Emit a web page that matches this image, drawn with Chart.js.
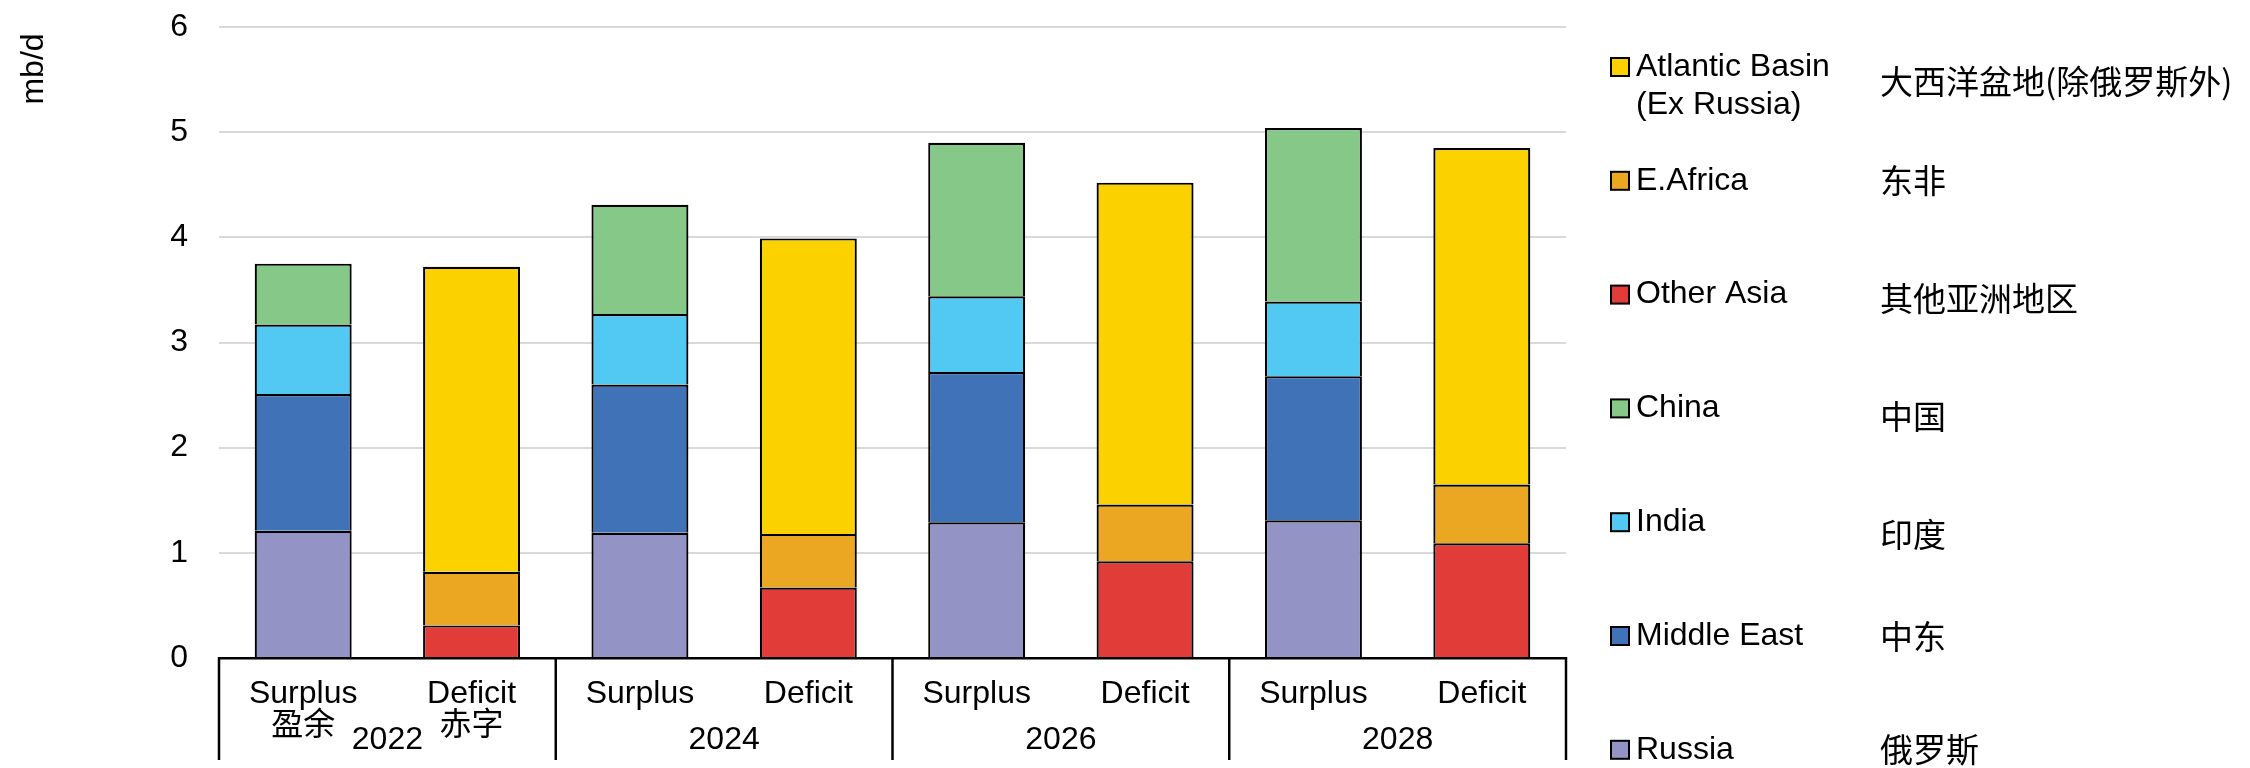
<!DOCTYPE html>
<html>
<head>
<meta charset="utf-8">
<script src="https://cdn.jsdelivr.net/npm/chart.js@4.4.1/dist/chart.umd.min.js"></script>
<style>
  html, body { margin: 0; padding: 0; background: #ffffff; }
  #wrap { width: 2250px; height: 768px; position: relative; }
</style>
</head>
<body>
<div id="wrap"><canvas id="chart" width="2250" height="768"></canvas></div>
<script>
// Category labels (first group carries the Chinese sub-labels)
const categories = [['Surplus', '盈余'], ['Deficit', '赤字'], 'Surplus', 'Deficit', 'Surplus', 'Deficit', 'Surplus', 'Deficit'];
const years = ['2022', '2024', '2026', '2028'];

// Surplus regions (mb/d)
const russia     = [1.21, null, 1.19, null, 1.29, null, 1.31, null];
const middleEast = [1.30, null, 1.41, null, 1.43, null, 1.37, null];
const india      = [0.66, null, 0.67, null, 0.72, null, 0.71, null];
const china      = [0.58, null, 1.04, null, 1.46, null, 1.65, null];
// Deficit regions (mb/d)
const otherAsia  = [null, 0.31, null, 0.67, null, 0.92, null, 1.09];
const eAfrica    = [null, 0.51, null, 0.51, null, 0.54, null, 0.56];
const atlantic   = [null, 2.90, null, 2.81, null, 3.06, null, 3.20];

const yTicks = [0, 1, 2, 3, 4, 5, 6];
const unitLabel = 'mb/d';

const FONT = "'Liberation Sans', Arial, 'Noto Sans CJK SC', sans-serif";
const CJK = "'Noto Sans CJK SC', 'Liberation Sans', sans-serif";

const series = [
  { label: 'Russia',                     zh: '俄罗斯',                data: russia,     color: '#9393C5' },
  { label: 'Middle East',                zh: '中东',                  data: middleEast, color: '#4072B7' },
  { label: 'India',                      zh: '印度',                  data: india,      color: '#51C9F3' },
  { label: 'China',                      zh: '中国',                  data: china,      color: '#86C887' },
  { label: 'Other Asia',                 zh: '其他亚洲地区',          data: otherAsia,  color: '#E23C39' },
  { label: 'E.Africa',                   zh: '东非',                  data: eAfrica,    color: '#EBA622' },
  { label: 'Atlantic Basin\n(Ex Russia)', zh: '大西洋盆地(除俄罗斯外)', data: atlantic,   color: '#FCD100' }
];

// Year row, group dividers under the axis, unit label and the two-column legend
const decorations = {
  id: 'decorations',
  afterDraw(chart) {
    const ctx = chart.ctx;
    const xs = chart.scales.x;
    const area = chart.chartArea;
    const half = (xs.getPixelForValue(1) - xs.getPixelForValue(0)) / 2;
    ctx.save();

    // group dividers
    ctx.strokeStyle = '#000';
    ctx.lineWidth = 2.5;
    for (let g = 0; g <= years.length; g++) {
      const px = g < years.length ? xs.getPixelForValue(g * 2) - half : xs.getPixelForValue(g * 2 - 1) + half;
      ctx.beginPath();
      ctx.moveTo(px, area.bottom - 1);
      ctx.lineTo(px, 760);
      ctx.stroke();
    }

    // year labels
    ctx.fillStyle = '#000';
    ctx.font = '32px ' + FONT;
    ctx.textAlign = 'center';
    ctx.textBaseline = 'alphabetic';
    years.forEach((y, g) => {
      const cx = (xs.getPixelForValue(g * 2) + xs.getPixelForValue(g * 2 + 1)) / 2;
      ctx.fillText(y, cx, 749);
    });

    // unit label
    ctx.save();
    ctx.translate(43, 69);
    ctx.rotate(-Math.PI / 2);
    ctx.textAlign = 'center';
    ctx.textBaseline = 'alphabetic';
    ctx.font = '32px ' + FONT;
    ctx.fillText(unitLabel, 0, 0);
    ctx.restore();

    // legend
    const items = chart.data.datasets.slice().reverse();
    const zhOffsets = [14, 0, 4, 8, 12, 0, 0];
    items.forEach((ds, i) => {
      const cy = 67 + i * 113.8;
      ctx.fillStyle = ds.backgroundColor;
      ctx.fillRect(1611, cy - 9, 18, 18);
      ctx.strokeStyle = '#000';
      ctx.lineWidth = 2;
      ctx.strokeRect(1611, cy - 9, 18, 18);
      ctx.fillStyle = '#000';
      ctx.font = '32px ' + FONT;
      ctx.textAlign = 'left';
      ctx.textBaseline = 'middle';
      ds.label.split('\n').forEach((line, k) => ctx.fillText(line, 1636, cy + k * 38));
      ctx.font = '33px ' + CJK;
      ctx.fillText(ds.zh, 1880, cy + zhOffsets[i]);
    });

    ctx.restore();
  }
};

new Chart(document.getElementById('chart'), {
  type: 'bar',
  data: {
    labels: categories,
    datasets: series.map(s => ({
      label: s.label,
      zh: s.zh,
      data: s.data,
      backgroundColor: s.color,
      borderColor: '#000',
      borderWidth: 2.2,
      borderSkipped: 'start',
      categoryPercentage: 1,
      barPercentage: 0.576
    }))
  },
  options: {
    responsive: false,
    animation: false,
    layout: { padding: { left: 0, right: 684, top: 27, bottom: 0 } },
    plugins: { legend: { display: false }, tooltip: { enabled: false } },
    scales: {
      x: {
        stacked: true,
        grid: { display: false },
        border: { display: true, color: '#000', width: 2.5 },
        ticks: {
          color: '#000',
          font: { size: 32, family: FONT, lineHeight: 1.0 },
          padding: 12,
          maxRotation: 0,
          autoSkip: false
        },
        afterFit(scale) { scale.height = 110; }
      },
      y: {
        stacked: true,
        min: yTicks[0],
        max: yTicks[yTicks.length - 1],
        afterBuildTicks(scale) { scale.ticks = yTicks.map(v => ({ value: v })); },
        grid: {
          color: c => (c.tick && c.tick.value === 0) ? 'rgba(0,0,0,0)' : '#D9D9D9',
          lineWidth: 2,
          drawTicks: false
        },
        border: { display: false },
        ticks: {
          color: '#000',
          font: { size: 32, family: FONT },
          padding: 31
        },
        afterFit(scale) {
          scale.width = 219;
          scale.paddingTop = 0;
          scale.paddingBottom = 0;
        }
      }
    }
  },
  plugins: [decorations]
});
</script>
</body>
</html>
